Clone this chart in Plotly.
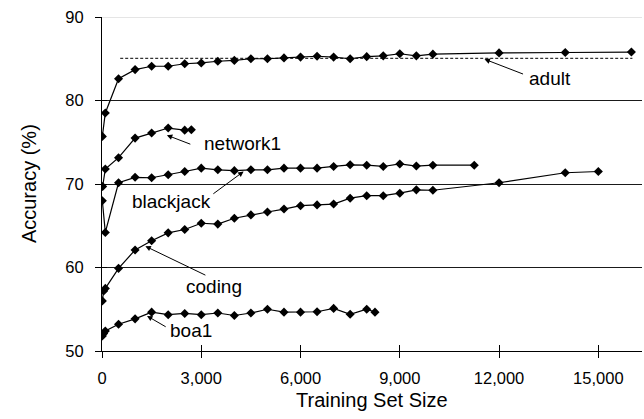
import plotly.graph_objects as go

# ---------------- data ----------------
adult_x = [10, 100, 500, 1000, 1500, 2000, 2500, 3000, 3500, 4000, 4500, 5000, 5500,
           6000, 6500, 7000, 7500, 8000, 8500, 9000, 9500, 10000, 12000, 14000, 16000]
adult_y = [75.7, 78.5, 82.6, 83.7, 84.1, 84.1, 84.4, 84.5, 84.7, 84.8, 85.0, 85.0, 85.1,
           85.2, 85.3, 85.2, 85.0, 85.25, 85.35, 85.6, 85.35, 85.55, 85.7, 85.75, 85.8]

network1_x = [20, 100, 500, 1000, 1500, 2000, 2500, 2700]
network1_y = [69.7, 71.8, 73.15, 75.5, 76.1, 76.7, 76.45, 76.5]

blackjack_x = [10, 100, 500, 1000, 1500, 2000, 2500, 3000, 3500, 4000, 4500, 5000, 5500,
               6000, 6500, 7000, 7500, 8000, 8500, 9000, 9500, 10000, 11250]
blackjack_y = [68.0, 64.2, 70.15, 70.8, 70.75, 71.1, 71.5, 71.9, 71.7, 71.6, 71.7, 71.7, 71.9,
               71.9, 71.9, 72.1, 72.3, 72.25, 72.1, 72.4, 72.15, 72.25, 72.25]

coding_x = [10, 50, 100, 500, 1000, 1500, 2000, 2500, 3000, 3500, 4000, 4500, 5000, 5500,
            6000, 6500, 7000, 7500, 8000, 8500, 9000, 9500, 10000, 12000, 14000, 15000]
coding_y = [56.0, 57.2, 57.5, 59.9, 62.1, 63.2, 64.15, 64.55, 65.3, 65.2, 65.9, 66.3, 66.65, 67.0,
            67.4, 67.5, 67.6, 68.3, 68.6, 68.6, 68.9, 69.3, 69.25, 70.15, 71.35, 71.5]

boa1_x = [10, 50, 100, 500, 1000, 1500, 2000, 2500, 3000, 3500, 4000, 4500, 5000, 5500,
          6000, 6500, 7000, 7500, 8000, 8250]
boa1_y = [51.8, 52.1, 52.4, 53.2, 53.85, 54.65, 54.35, 54.5, 54.35, 54.55, 54.25, 54.55, 55.0, 54.65,
          54.65, 54.7, 55.1, 54.4, 55.0, 54.65]

baseline_x = [550, 16030]
baseline_y = [85.05, 85.05]

x_ticks = [0, 3000, 6000, 9000, 12000, 15000]
x_tick_labels = ["0", "3,000", "6,000", "9,000", "12,000", "15,000"]
y_ticks = [50, 60, 70, 80, 90]
y_tick_labels = ["50", "60", "70", "80", "90"]

series = [
    ("adult", adult_x, adult_y),
    ("network1", network1_x, network1_y),
    ("blackjack", blackjack_x, blackjack_y),
    ("coding", coding_x, coding_y),
    ("boa1", boa1_x, boa1_y),
]

FONT = "Liberation Sans, Arial, sans-serif"
X_MAX = 16320

fig = go.Figure()

fig.add_trace(go.Scatter(
    x=baseline_x, y=baseline_y, mode="lines",
    line=dict(color="#333333", width=1.2, dash="3px,2px"),
    showlegend=False, hoverinfo="skip"))

for name, xs, ys in series:
    fig.add_trace(go.Scatter(
        x=xs, y=ys, mode="lines+markers", name=name,
        line=dict(color="black", width=1.2),
        marker=dict(symbol="diamond", size=7, color="black"),
        showlegend=False))

# empty trace to host the overlay axes carrying inside tick marks
fig.add_trace(go.Scatter(x=[], y=[], xaxis="x2", yaxis="y2", showlegend=False))

# labels with arrows: (text, text_x, text_y, tail_x, tail_y, head_x, head_y)
labels = [
    ("adult", 13550, 82.6, 12770, 83.1, 11560, 84.95),
    ("network1", 4250, 74.85, 2715, 74.7, 1960, 75.85),
    ("blackjack", 2090, 67.85, 3320, 68.7, 4280, 71.5),
    ("coding", 3390, 57.7, 3170, 59.0, 1310, 62.55),
    ("boa1", 2680, 52.45, 1970, 52.8, 1360, 54.2),
]
annotations = []
for text, tx, ty, ax_, ay_, hx, hy in labels:
    annotations.append(dict(
        x=tx, y=ty, xref="x", yref="y", text=text, showarrow=False,
        font=dict(family=FONT, size=19, color="black"),
        xanchor="center", yanchor="middle"))
    annotations.append(dict(
        x=hx, y=hy, ax=ax_, ay=ay_, xref="x", yref="y", axref="x", ayref="y",
        text="", showarrow=True, arrowhead=2, arrowsize=1.1, arrowwidth=1,
        arrowcolor="black", standoff=0, startstandoff=0))

annotations.append(dict(
    x=0.5, y=-0.148, xref="paper", yref="paper", text="Training Set Size",
    showarrow=False, xanchor="center", yanchor="middle",
    font=dict(family=FONT, size=20, color="black")))
annotations.append(dict(
    x=-0.135, y=0.5, xref="paper", yref="paper", text="Accuracy (%)",
    showarrow=False, xanchor="center", yanchor="middle", textangle=-90,
    font=dict(family=FONT, size=20, color="black")))

fig.update_layout(
    width=644, height=419,
    margin=dict(l=102, r=2, t=17, b=68, pad=0),
    paper_bgcolor="white", plot_bgcolor="white",
    font=dict(family=FONT, size=16.5, color="black"),
    annotations=annotations,
    shapes=[dict(type="line", xref="paper", yref="y", x0=0, x1=1, y0=90, y1=90,
                 line=dict(color="#dcdcdc", width=1.5), layer="above")],
    xaxis=dict(
        range=[0, X_MAX], tickvals=x_ticks, ticktext=x_tick_labels,
        showgrid=False, zeroline=False, showline=True, linecolor="black", linewidth=1,
        ticks="outside", ticklen=6, tickcolor="black", tickwidth=1,
        ticklabelstandoff=6, tickfont=dict(family=FONT, size=16.5, color="black")),
    yaxis=dict(
        range=[50, 90], tickvals=y_ticks, ticktext=y_tick_labels,
        showgrid=True, gridcolor="#1a1a1a", gridwidth=1,
        zeroline=False, showline=True, linecolor="black", linewidth=1,
        ticks="outside", ticklen=6, tickcolor="black", tickwidth=1,
        ticklabelstandoff=8, tickfont=dict(family=FONT, size=16.5, color="black")),
    xaxis2=dict(
        range=[0, X_MAX], tickvals=x_ticks, overlaying="x", anchor="y", side="bottom",
        showticklabels=False, showgrid=False, zeroline=False, showline=False,
        ticks="inside", ticklen=6, tickcolor="black", tickwidth=1),
    yaxis2=dict(
        range=[50, 90], tickvals=y_ticks, overlaying="y", anchor="x", side="left",
        showticklabels=False, showgrid=False, zeroline=False, showline=False,
        ticks="inside", ticklen=5, tickcolor="black", tickwidth=1),
)

fig.write_html(
    "out.html",
    config={"displayModeBar": False},
    post_script="document.body.style.margin='0';document.body.style.overflow='hidden';")
